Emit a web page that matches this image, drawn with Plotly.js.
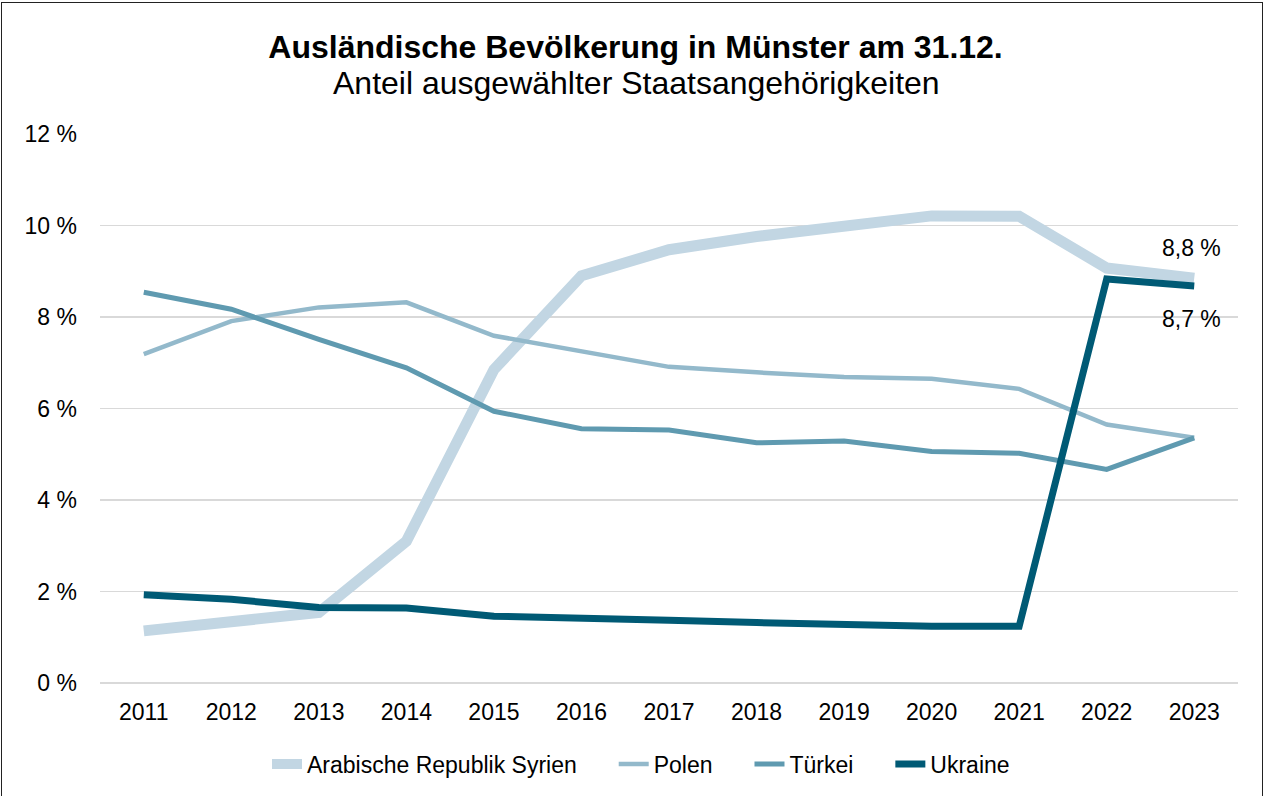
<!DOCTYPE html>
<html>
<head>
<meta charset="utf-8">
<script src="https://cdn.plot.ly/plotly-3.0.1.min.js"></script>
<style>
  html, body { margin: 0; padding: 0; background: #fff; overflow: hidden; }
  #wrap { position: absolute; left: 0; top: 0; width: 1266px; height: 796px; }
  #frame { position: absolute; left: 1px; top: 2px; width: 1262px; height: 820px; border: 1.5px solid #222; box-sizing: border-box; pointer-events: none; }
  #chart { position: absolute; left: 0; top: 0; width: 1266px; height: 796px; }
</style>
</head>
<body>
<div id="wrap">
  <div id="chart"></div>
  <div id="frame"></div>
</div>
<script>
const years = ['2011','2012','2013','2014','2015','2016','2017','2018','2019','2020','2021','2022','2023'];
const syrien  = [1.14, 1.34, 1.54, 3.10, 6.85, 8.90, 9.47, 9.76, 9.98, 10.21, 10.20, 9.07, 8.85];
const polen   = [7.19, 7.91, 8.21, 8.32, 7.59, 7.25, 6.91, 6.79, 6.69, 6.65, 6.43, 5.65, 5.36];
const tuerkei = [8.54, 8.17, 7.51, 6.89, 5.94, 5.56, 5.53, 5.25, 5.29, 5.06, 5.02, 4.67, 5.36];
const ukraine = [1.93, 1.83, 1.65, 1.64, 1.46, 1.40, 1.37, 1.32, 1.27, 1.24, 1.24, 8.83, 8.68];
const seriesNames = ['Arabische Republik Syrien', 'Polen', 'Türkei', 'Ukraine'];
const endLabels = ['8,8 %', '8,7 %'];
const titleText = 'Ausländische Bevölkerung in Münster am 31.12.';
const subtitleText = 'Anteil ausgewählter Staatsangehörigkeiten';

const font = 'Liberation Sans, Arial, sans-serif';
const last = years.length - 1;
const pad = '\u00a0\u00a0\u00a0\u00a0\u00a0';

const traces = [
  {x: years, y: syrien,  name: seriesNames[0] + pad, type: 'scatter', mode: 'lines', line: {color: '#c2d6e3', width: 11}},
  {x: years, y: polen,   name: seriesNames[1] + pad, type: 'scatter', mode: 'lines', line: {color: '#93b9cb', width: 4.5}},
  {x: years, y: tuerkei, name: seriesNames[2] + pad, type: 'scatter', mode: 'lines', line: {color: '#5f9ab0', width: 5}},
  {x: years, y: ukraine, name: seriesNames[3], type: 'scatter', mode: 'lines', line: {color: '#005a75', width: 7}}
];

const layout = {
  width: 1266, height: 796,
  margin: {l: 100, r: 28, t: 134, b: 112},
  paper_bgcolor: 'rgba(0,0,0,0)',
  plot_bgcolor: '#fff',
  font: {family: font, color: '#000', size: 23},
  title: {
    text: '<b>' + titleText + '</b>',
    font: {family: font, size: 32, color: '#000'},
    x: 0.502, xref: 'container', xanchor: 'center',
    y: 1 - 47/796, yref: 'container', yanchor: 'middle'
  },
  xaxis: {
    type: 'category',
    range: [-0.5, 12.5],
    showgrid: false, zeroline: false, showline: false,
    ticks: '', tickfont: {family: font, size: 23, color: '#000'},
    ticklabelstandoff: 13,
    fixedrange: true
  },
  yaxis: {
    range: [0, 12], dtick: 2, tick0: 0,
    ticksuffix: ' %',
    showgrid: true, gridcolor: '#d9d9d9', gridwidth: 1.5,
    zeroline: true, zerolinecolor: '#d9d9d9', zerolinewidth: 1.5,
    showline: false, ticks: '',
    tickfont: {family: font, size: 23, color: '#000'},
    ticklabelstandoff: 22,
    fixedrange: true
  },
  showlegend: true,
  legend: {
    orientation: 'h',
    x: 0.4754, xanchor: 'center',
    y: -80/550, yanchor: 'middle',
    font: {family: font, size: 23, color: '#000'},
    tracegroupgap: 0,
    bgcolor: 'rgba(0,0,0,0)'
  },
  annotations: [
    {xref: 'paper', yref: 'paper', x: (636.5 - 100)/1138, y: 1, yshift: 51, text: subtitleText, showarrow: false,
     xanchor: 'center', yanchor: 'middle', font: {family: font, size: 32, color: '#000'}},
    {xref: 'x', yref: 'y', x: last, y: syrien[last], text: endLabels[0], showarrow: false, yshift: 30, xshift: -3,
     font: {family: font, size: 23, color: '#000'}},
    {xref: 'x', yref: 'y', x: last, y: ukraine[last], text: endLabels[1], showarrow: false, yshift: -33, xshift: -3,
     font: {family: font, size: 23, color: '#000'}}
  ]
};

Plotly.newPlot('chart', traces, layout, {displayModeBar: false, staticPlot: true});
</script>
</body>
</html>
